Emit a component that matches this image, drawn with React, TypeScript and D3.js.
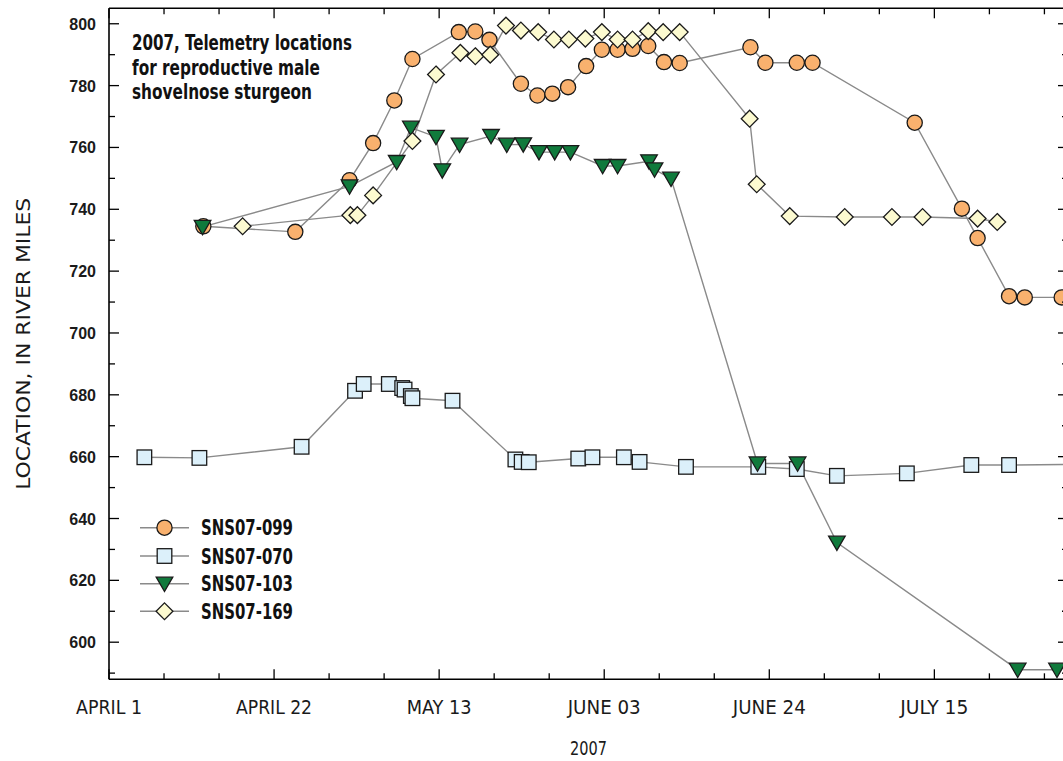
import React from "react";
import * as d3 from "d3";

// ---------- data (days since April 1, 2007 ; location in river miles) ----------
const sns099Days = [12.0, 23.7, 30.6, 33.6, 36.3, 38.6, 44.5, 46.6, 48.4, 52.4, 54.5, 56.4, 58.4, 60.7, 62.7, 64.7, 66.6, 68.6, 70.6, 72.6, 81.6, 83.5, 87.5, 89.5, 102.5, 108.5, 110.5, 114.5, 116.5, 121.2];
const sns099Miles = [734.5, 732.7, 749.4, 761.4, 775.2, 788.6, 797.3, 797.5, 794.8, 780.6, 776.8, 777.4, 779.5, 786.3, 791.6, 791.6, 791.9, 792.8, 787.6, 787.3, 792.4, 787.4, 787.4, 787.4, 768.0, 740.2, 730.7, 711.9, 711.5, 711.5];

const sns070Days = [4.5, 11.5, 24.5, 31.3, 32.4, 35.6, 37.3, 37.6, 38.4, 38.6, 43.7, 51.7, 52.5, 53.4, 59.7, 61.5, 65.5, 67.5, 73.4, 82.6, 87.5, 92.6, 101.5, 109.7, 114.5, 123.0];
const sns070Miles = [659.8, 659.6, 663.2, 681.3, 683.5, 683.5, 682.2, 681.7, 679.6, 678.9, 678.1, 659.1, 658.3, 658.2, 659.4, 659.8, 659.8, 658.3, 656.7, 656.7, 656.0, 653.8, 654.6, 657.3, 657.3, 657.5];

const sns103Days = [11.9, 30.6, 36.6, 38.4, 41.6, 42.4, 44.6, 48.6, 50.6, 52.7, 54.7, 56.7, 58.7, 62.8, 64.7, 68.7, 69.4, 71.5, 82.5, 87.6, 92.6, 115.6, 120.6];
const sns103Miles = [734.3, 747.4, 755.3, 766.4, 763.4, 752.6, 760.9, 763.7, 760.9, 761.0, 758.5, 758.5, 758.5, 754.0, 754.0, 755.5, 752.9, 749.9, 657.8, 657.8, 632.2, 591.1, 591.1];

const sns169Days = [17.0, 30.7, 31.6, 33.6, 38.6, 41.6, 44.7, 46.6, 48.5, 50.5, 52.4, 54.6, 56.6, 58.5, 60.6, 62.7, 64.7, 66.6, 68.6, 70.5, 72.6, 81.5, 82.4, 86.6, 93.6, 99.6, 103.5, 110.5, 113.0];
const sns169Miles = [734.5, 738.1, 738.1, 744.5, 762.1, 783.6, 790.6, 789.5, 790.0, 799.4, 797.8, 797.3, 794.9, 794.9, 795.2, 797.3, 794.9, 794.9, 797.6, 797.3, 797.3, 769.3, 748.1, 737.8, 737.5, 737.5, 737.5, 737.0, 735.9];

const seriesNames = ["SNS07-099", "SNS07-070", "SNS07-103", "SNS07-169"];

const xTickDays = [0, 21, 42, 63, 84, 105];
const xTickLabels = ["APRIL 1", "APRIL 22", "MAY 13", "JUNE 03", "JUNE 24", "JULY 15"];
const yTickValues = [600, 620, 640, 660, 680, 700, 720, 740, 760, 780, 800];

const titleLines = ["2007, Telemetry locations", "for reproductive male", "shovelnose sturgeon"];
const yAxisTitle = "LOCATION, IN RIVER MILES";
const xAxisTitle = "2007";

// ---------- layout ----------
const W = 1063;
const H = 761;
const L = 109;
const R = 1068;
const T = 8.3;
const B = 679.3;

const START = new Date(Date.UTC(2007, 3, 1));
const dayToDate = (d: number) => new Date(START.getTime() + d * 86400000);

const COND = "'Liberation Sans Narrow', 'DejaVu Sans Condensed', 'Arial Narrow', 'Liberation Sans', Arial, sans-serif";
const SANS = "'Liberation Sans', Arial, Helvetica, sans-serif";

type Shape = "circle" | "square" | "triangle" | "diamond";

const styles: { shape: Shape; fill: string }[] = [
  { shape: "circle", fill: "#F9B16E" },
  { shape: "square", fill: "#DCF0FA" },
  { shape: "triangle", fill: "#107A3C" },
  { shape: "diamond", fill: "#FCFAD0" },
];

function Marker({ shape, fill, cx, cy }: { shape: Shape; fill: string; cx: number; cy: number }) {
  const common = { fill, stroke: "#1a1a1a", strokeWidth: 1.3 };
  if (shape === "circle") return <circle cx={cx} cy={cy} r={7.6} {...common} />;
  if (shape === "square") return <rect x={cx - 7.3} y={cy - 7.3} width={14.6} height={14.6} {...common} />;
  if (shape === "triangle")
    return <path d={`M${cx - 8.3},${cy - 6.5}L${cx + 8.3},${cy - 6.5}L${cx},${cy + 7.8}Z`} {...common} />;
  return <path d={`M${cx},${cy - 8.4}L${cx + 8.4},${cy}L${cx},${cy + 8.4}L${cx - 8.4},${cy}Z`} {...common} />;
}

export default function App() {
  const x = d3.scaleTime().domain([START, dayToDate(122)]).range([L, R]);
  const y = d3.scaleLinear().domain([588, 805]).range([B, T]);

  const allSeries = [
    { days: sns099Days, miles: sns099Miles },
    { days: sns070Days, miles: sns070Miles },
    { days: sns103Days, miles: sns103Miles },
    { days: sns169Days, miles: sns169Miles },
  ];

  const line = d3
    .line<[number, number]>()
    .x((d) => x(dayToDate(d[0])))
    .y((d) => y(d[1]));

  const weekDays = d3.range(0, 122, 7);
  const yAll = d3.range(590, 805, 10);

  // draw order for markers: squares, circles, triangles, diamonds
  const markerOrder = [1, 0, 2, 3];

  const legendRows = [527.7, 556, 583.7, 611.3];
  const xLabelWidths = [66, 76, 65, 73, 73, 68];
  const titleWidths = [220, 188, 180];

  return (
    <div style={{ position: "fixed", left: 0, top: 0, width: W, height: H, overflow: "hidden", background: "#fff" }}>
      <svg width={W} height={H} style={{ display: "block" }}>
        <defs>
          <clipPath id="plotClip">
            <rect x={L} y={T} width={R - L} height={B - T} />
          </clipPath>
        </defs>
        <rect x={0} y={0} width={W} height={H} fill="#fff" />

        {/* series lines */}
        <g clipPath="url(#plotClip)">
          {allSeries.map((s, i) => (
            <path
              key={"l" + i}
              d={line(s.days.map((d, j) => [d, s.miles[j]] as [number, number])) || ""}
              fill="none"
              stroke="#8a8a8a"
              strokeWidth={1.4}
            />
          ))}
        </g>

        {/* markers */}
        <g clipPath="url(#plotClip)">
          {markerOrder.map((i) =>
            allSeries[i].days.map((d, j) => (
              <Marker
                key={`m${i}-${j}`}
                shape={styles[i].shape}
                fill={styles[i].fill}
                cx={x(dayToDate(d))}
                cy={y(allSeries[i].miles[j])}
              />
            ))
          )}
        </g>

        {/* frame */}
        <g stroke="#000" strokeWidth={1.6} fill="none">
          <line x1={L} y1={T} x2={R} y2={T} />
          <line x1={L} y1={B} x2={R} y2={B} />
          <line x1={L} y1={T} x2={L} y2={B} />
          <line x1={R} y1={T} x2={R} y2={B} />
        </g>

        {/* x ticks */}
        <g stroke="#000" strokeWidth={1.3}>
          {weekDays.map((d, k) => {
            const xx = x(dayToDate(d));
            const len = k % 3 === 0 ? 10 : 6;
            return (
              <g key={"xt" + d}>
                <line x1={xx} y1={B} x2={xx} y2={B - len} />
                <line x1={xx} y1={T} x2={xx} y2={T + len} />
              </g>
            );
          })}
        </g>

        {/* y ticks */}
        <g stroke="#000" strokeWidth={1.3}>
          {yAll.map((v) => {
            const yy = y(v);
            const len = v % 20 === 0 ? 10 : 6;
            return (
              <g key={"yt" + v}>
                <line x1={L} y1={yy} x2={L + len} y2={yy} />
                <line x1={R} y1={yy} x2={R - len} y2={yy} />
              </g>
            );
          })}
        </g>

        {/* y tick labels */}
        <g fontFamily={SANS} fontSize={16} fontWeight="bold" fill="#1a1a1a" textAnchor="end">
          {yTickValues.map((v) => (
            <text key={"yl" + v} x={96} y={y(v) + 6}>
              {v}
            </text>
          ))}
        </g>

        {/* x tick labels */}
        <g fontFamily={COND} fontSize={20} fill="#1a1a1a" textAnchor="middle">
          {xTickDays.map((d, i) => (
            <text
              key={"xl" + d}
              x={x(dayToDate(d))}
              y={714}
              textLength={xLabelWidths[i]}
              lengthAdjust="spacingAndGlyphs"
            >
              {xTickLabels[i]}
            </text>
          ))}
        </g>

        {/* axis titles */}
        <text
          x={(L + R) / 2}
          y={755}
          fontFamily={COND}
          fontSize={19}
          textAnchor="middle"
          fill="#1a1a1a"
          textLength={37}
          lengthAdjust="spacingAndGlyphs"
        >
          {xAxisTitle}
        </text>
        <text
          transform={`translate(30, ${(T + B) / 2}) rotate(-90)`}
          fontFamily={COND}
          fontSize={20}
          textAnchor="middle"
          fill="#1a1a1a"
          textLength={292}
          lengthAdjust="spacingAndGlyphs"
        >
          {yAxisTitle}
        </text>

        {/* title */}
        <g fontFamily={COND} fontSize={21} fontWeight="bold" fill="#111">
          {titleLines.map((t, i) => (
            <text key={"t" + i} x={132} y={50 + i * 24.5} textLength={titleWidths[i]} lengthAdjust="spacingAndGlyphs">
              {t}
            </text>
          ))}
        </g>

        {/* legend */}
        <g>
          {seriesNames.map((name, i) => (
            <g key={"lg" + i}>
              <line x1={140} y1={legendRows[i]} x2={189} y2={legendRows[i]} stroke="#8a8a8a" strokeWidth={1.4} />
              <Marker shape={styles[i].shape} fill={styles[i].fill} cx={164.5} cy={legendRows[i]} />
              <text
                x={201}
                y={legendRows[i] + 7.5}
                fontFamily={COND}
                fontSize={21}
                fontWeight="bold"
                fill="#111"
                textLength={92}
                lengthAdjust="spacingAndGlyphs"
              >
                {name}
              </text>
            </g>
          ))}
        </g>
      </svg>
    </div>
  );
}
